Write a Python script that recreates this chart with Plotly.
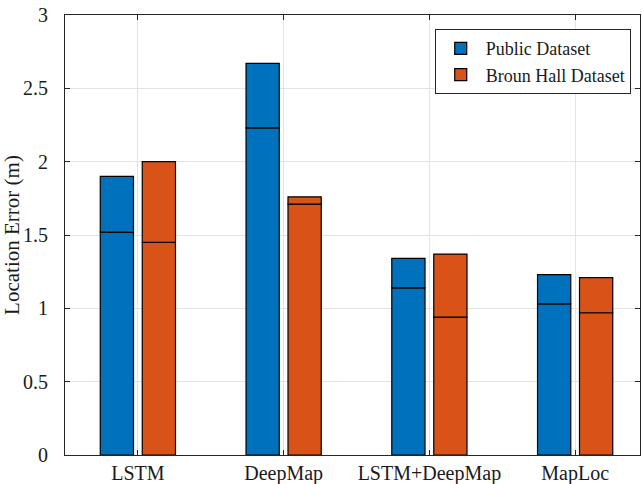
import plotly.graph_objects as go

# Location error per method: full bar height and the inner split line
categories = ["LSTM", "DeepMap", "LSTM+DeepMap", "MapLoc"]
public_total = [1.90, 2.67, 1.34, 1.23]
public_lower = [1.52, 2.23, 1.14, 1.03]
broun_total = [2.00, 1.76, 1.37, 1.21]
broun_lower = [1.45, 1.71, 0.94, 0.97]

BLUE = "#0072BD"
ORANGE = "#D95319"
BAR_W = 0.228
SERIF = "Liberation Serif, Times New Roman, serif"


def add_series(name, lower, total, color, offset):
    upper = [t - l for t, l in zip(total, lower)]
    common = dict(
        x=categories,
        width=BAR_W,
        offset=offset,
        marker=dict(color=color, line=dict(color="black", width=1.2)),
        legendgroup=name,
        hoverinfo="skip",
    )
    fig.add_trace(go.Bar(y=lower, base=0, name=name, showlegend=True, **common))
    fig.add_trace(go.Bar(y=upper, base=lower, name=name, showlegend=False, **common))


fig = go.Figure()
add_series("Public Dataset", public_lower, public_total, BLUE, -0.258)
add_series("Broun Hall Dataset", broun_lower, broun_total, ORANGE, 0.030)

axis_common = dict(
    showline=True,
    linecolor="#262626",
    linewidth=1,
    mirror="ticks",
    ticks="inside",
    ticklen=5,
    tickcolor="#262626",
    showgrid=True,
    gridcolor="#e3e3e3",
    gridwidth=1,
    zeroline=False,
    automargin=False,
    tickfont=dict(family=SERIF, size=20, color="#1a1a1a"),
)

fig.update_layout(
    width=642,
    height=484,
    margin=dict(l=65, r=2, t=15, b=29),
    paper_bgcolor="white",
    plot_bgcolor="white",
    barmode="overlay",
    font=dict(family=SERIF, color="#1a1a1a"),
    xaxis=dict(range=[-0.5, 3.445], type="category", ticklabelstandoff=0, **axis_common),
    yaxis=dict(
        range=[0, 3],
        tickvals=[0, 0.5, 1, 1.5, 2, 2.5, 3],
        ticktext=["0", "0.5", "1", "1.5", "2", "2.5", "3"],
        ticklabelstandoff=12,
        title=dict(text="Location Error (m)", font=dict(family=SERIF, size=21), standoff=4),
        **axis_common,
    ),
    legend=dict(
        x=0.643,
        y=0.968,
        xanchor="left",
        yanchor="top",
        bgcolor="white",
        bordercolor="#262626",
        borderwidth=1,
        font=dict(family=SERIF, size=18, color="#1a1a1a"),
        tracegroupgap=0,
        itemwidth=40,
    ),
)

fig.write_html("out.html")
